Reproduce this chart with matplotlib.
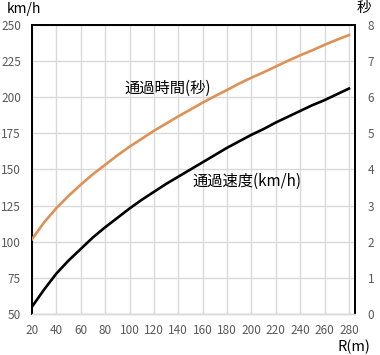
import matplotlib
matplotlib.use("Agg")
import matplotlib.pyplot as plt

plt.rcParams["font.family"] = ["Noto Sans CJK JP", "DejaVu Sans"]

# curve radius R (m)
radius = [20, 30, 40, 50, 60, 70, 80, 90, 100, 110, 120, 130, 140, 150,
          160, 170, 180, 190, 200, 210, 220, 230, 240, 250, 260, 270, 280]
# passing speed (km/h), left axis
speed = [55, 67, 78, 87, 95, 103, 110, 116.5, 123, 129, 134.5, 140, 145, 150,
         155, 160, 165, 169.5, 174, 178, 182.5, 186.5, 190.5, 194.5, 198, 202, 206]
# passing time (s), right axis
seconds = [2.07, 2.54, 2.93, 3.27, 3.58, 3.87, 4.13, 4.39, 4.63, 4.85, 5.07,
           5.27, 5.47, 5.66, 5.85, 6.03, 6.20, 6.38, 6.54, 6.69, 6.85, 7.01,
           7.16, 7.30, 7.45, 7.59, 7.72]

x_ticks = list(range(20, 281, 20))
left_ticks = list(range(50, 251, 25))
right_ticks = list(range(0, 9))

tick_color = "#595959"
grid_color = "#D9D9D9"
orange = "#DE9157"

fig = plt.figure(figsize=(3.8, 3.55), dpi=100)
ax = fig.add_axes([0.0842, 0.1155, 0.8500, 0.8141])
ax2 = ax.twinx()

ax.plot(radius, speed, color="black", linewidth=1.9, zorder=3)
ax2.plot(radius, seconds, color=orange, linewidth=1.9, zorder=3)

ax.set_xlim(20, 285)
ax.set_ylim(50, 250)
ax2.set_ylim(0, 8)
ax.set_xticks(x_ticks)
ax.set_yticks(left_ticks)
ax2.set_yticks(right_ticks)

ax.grid(True, color=grid_color, linewidth=1.0)
ax.set_axisbelow(True)

for a in (ax, ax2):
    a.tick_params(length=0, labelsize=8.5, labelcolor=tick_color)
    for side in ("left", "right", "top"):
        a.spines[side].set_color("black")
        a.spines[side].set_linewidth(1.3)
    a.spines["bottom"].set_color(grid_color)
    a.spines["bottom"].set_linewidth(1.0)
ax.tick_params(axis="y", pad=8)
ax.tick_params(axis="x", pad=7)
ax2.tick_params(axis="y", pad=9)

# unit labels outside the plot area
fig.text(0.018, 0.962, "km/h", fontsize=10, color="black", va="baseline", ha="left")
fig.text(0.976, 0.966, "秒", fontsize=10.5, color="black", va="baseline", ha="right")
fig.text(0.975, 0.003, "R(m)", fontsize=10.5, color="black", va="bottom", ha="right")

ax.text(0.4195, 0.782, "通過時間(秒)", transform=ax.transAxes, fontsize=11,
        ha="center", va="center")
ax.text(0.667, 0.458, "通過速度(km/h)", transform=ax.transAxes, fontsize=11,
        ha="center", va="center")

fig.savefig("out.png", dpi=100, facecolor="white")
